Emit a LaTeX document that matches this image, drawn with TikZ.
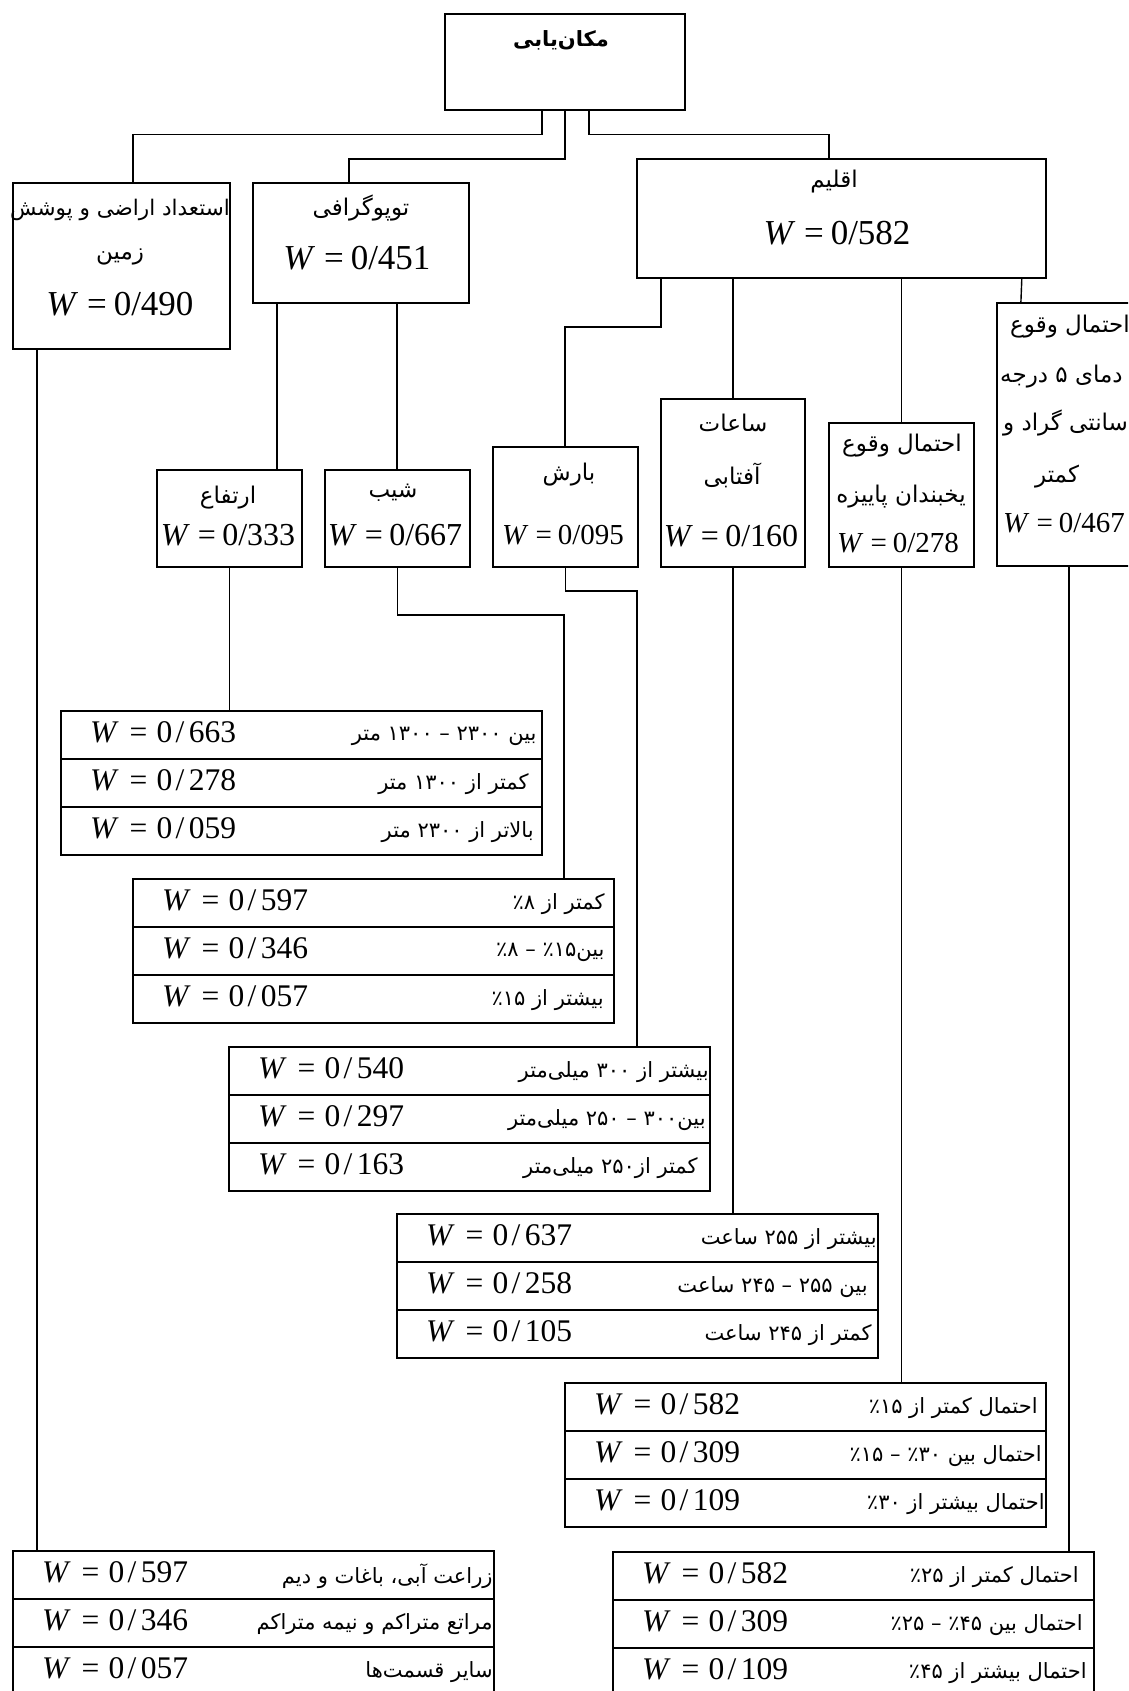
\documentclass[tikz,border=0pt]{standalone}
\usepackage{fontspec}
\setmainfont{Liberation Serif}
\newfontfamily\ar[Script=Arabic]{DejaVu Sans}
\TeXXeTstate=1
\tikzset{
  box/.style={draw, line width=1.8pt, inner sep=0pt, anchor=north west},
  conn/.style={line width=1.4pt},
  ta/.style={inner sep=0pt, font=\ar\fontsize{21}{24}\selectfont},
  ba/.style={inner sep=0pt, font=\ar\fontsize{23}{26}\selectfont},
  wt/.style={inner sep=0pt, font=\fontsize{31.5}{34}\selectfont},
  wb/.style={inner sep=0pt, font=\fontsize{35}{38}\selectfont},
  wm/.style={inner sep=0pt, font=\fontsize{32}{35}\selectfont},
  ws/.style={inner sep=0pt, font=\fontsize{29}{31}\selectfont},
}
\newcommand\Wt[1]{\textit{W}\hspace{.34em}=\hspace{.3em}0\hspace{.1em}/\hspace{.14em}#1}
\newcommand\Wb[1]{\textit{W}\hspace{.25em}=\hspace{.2em}0/#1}
\newcommand\RL[1]{\beginR #1\endR}
\newcommand\pc{\kern0pt ٪}
\newcommand\trow[6]{%
  \node[box, minimum width=481pt, minimum height=48pt] (#1) at (#2,#3) {};
  \node[wt, anchor=west] (#1w) at ([xshift=30pt,yshift=3pt]#1.west) {\Wt{#4}};
  \node[ta, anchor=east] (#1a) at ([xshift=-#6pt,yshift=-1pt]#1.east) {\RL{#5}};
}
\begin{document}
\begin{tikzpicture}[x=1pt,y=-1pt]
\useasboundingbox (0,0) rectangle (1128,1691);
\fill[white] (0,0) rectangle (1128,1691);
\clip (0,0) rectangle (1128,1691);

% boxes
\node[box, minimum width=240pt, minimum height=96pt] (top) at (444,13) {};
\node[box, minimum width=217pt, minimum height=166pt] (land) at (12,182) {};
\node[box, minimum width=216pt, minimum height=120pt] (topo) at (252,182) {};
\node[box, minimum width=409pt, minimum height=119pt] (clim) at (636,158) {};
\node[box, minimum width=145pt, minimum height=97pt] (alt) at (156,469) {};
\node[box, minimum width=145pt, minimum height=97pt] (slope) at (324,469) {};
\node[box, minimum width=145pt, minimum height=120pt] (rain) at (492,446) {};
\node[box, minimum width=144pt, minimum height=168pt] (sun) at (660,398) {};
\node[box, minimum width=145pt, minimum height=144pt] (frost) at (828,422) {};
\node[box, minimum width=144pt, minimum height=263pt] (temp) at (996,302) {};

% box texts
\node[ba, font=\ar\bfseries\fontsize{21}{24}\selectfont] (tTitle) at (561,40) {\RL{مکان^^^^200cیابی}};
\node[ba, font=\ar\fontsize{21.5}{24}\selectfont] (landL1) at (120,210) {\RL{استعداد اراضی و پوشش}};
\node[ba] (landL2) at (120,257) {\RL{زمین}};
\node[wb] (landW) at (120,304) {\Wb{490}};
\node[ba] (topoL) at (361,208) {\RL{توپوگرافی}};
\node[wb] (topoW) at (357,258) {\Wb{451}};
\node[ba] (climL) at (834,182) {\RL{اقلیم}};
\node[wb] (climW) at (837,233) {\Wb{582}};
\node[ba] (altL) at (228,498) {\RL{ارتفاع}};
\node[wm] (altW) at (228,535) {\Wb{333}};
\node[ba] (slopeL) at (393,493) {\RL{شیب}};
\node[wm] (slopeW) at (395,535) {\Wb{667}};
\node[ba] (rainL) at (569,475) {\RL{بارش}};
\node[ws] (rainW) at (563,535) {\Wb{095}};
\node[ba] (sunL1) at (733,423) {\RL{ساعات}};
\node[ba] (sunL2) at (732,475) {\RL{آفتابی}};
\node[wm] (sunW) at (731,536) {\Wb{160}};
\node[ba] (frostL1) at (902,446) {\RL{احتمال وقوع}};
\node[ba] (frostL2) at (901,497) {\RL{یخبندان پاییزه}};
\node[ws] (frostW) at (898,543) {\Wb{278}};
\node[ba, anchor=west] (tempL1) at (1010,327) {\RL{احتمال وقوع}};
\node[ba, anchor=west] (tempL2) at (1000,377) {\RL{دمای ۵ درجه}};
\node[ba, anchor=west] (tempL3) at (1003,423) {\RL{سانتی گراد و}};
\node[ba] (tempL4) at (1057,477) {\RL{کمتر}};
\node[ws] (tempW) at (1064,523) {\Wb{467}};

% tables
\trow{altA}{60}{710}{663}{بین ۲۳۰۰ – ۱۳۰۰ متر}{6}
\trow{altB}{60}{758}{278}{کمتر از ۱۳۰۰ متر}{14}
\trow{altC}{60}{806}{059}{بالاتر از ۲۳۰۰ متر}{9}

\trow{slopeA}{132}{878}{597}{کمتر از ۸\pc}{10}
\trow{slopeB}{132}{926}{346}{بین۱۵\pc{} – ۸\pc}{10}
\trow{slopeC}{132}{974}{057}{بیشتر از ۱۵\pc}{11}

\trow{rainA}{228}{1046}{540}{بیشتر از ۳۰۰ میلی^^^^200cمتر}{2}
\trow{rainB}{228}{1094}{297}{بین۳۰۰ – ۲۵۰ میلی^^^^200cمتر}{5}
\trow{rainC}{228}{1142}{163}{کمتر از۲۵۰ میلی^^^^200cمتر}{13}

\trow{sunA}{396}{1213}{637}{بیشتر از ۲۵۵ ساعت}{2}
\trow{sunB}{396}{1261}{258}{بین ۲۵۵ – ۲۴۵ ساعت}{11}
\trow{sunC}{396}{1309}{105}{کمتر از ۲۴۵ ساعت}{7}

\trow{frostA}{564}{1382}{582}{احتمال کمتر از ۱۵\pc}{9}
\trow{frostB}{564}{1430}{309}{احتمال بین ۳۰\pc{} – ۱۵\pc}{5}
\trow{frostC}{564}{1478}{109}{احتمال بیشتر از ۳۰\pc}{2}

\trow{tempA}{612}{1551}{582}{احتمال کمتر از ۲۵\pc}{16}
\trow{tempB}{612}{1599}{309}{احتمال بین ۴۵\pc{} – ۲۵\pc}{12}
\trow{tempC}{612}{1647}{109}{احتمال بیشتر از ۴۵\pc}{8}

\trow{landA}{12}{1550}{597}{زراعت آبی، باغات و دیم}{2}
\trow{landB}{12}{1598}{346}{مراتع متراکم و نیمه متراکم}{2}
\trow{landC}{12}{1646}{057}{سایر قسمت^^^^200cها}{2}

% connectors
\draw[conn] ([xshift=-23pt]top.south) -- ++(0,24) -| ([xshift=11.5pt]land.north);
\draw[conn] (top.south) -- ++(0,48) -| ([xshift=-12pt]topo.north);
\draw[conn] ([xshift=24pt]top.south) -- ++(0,24) -| ([xshift=-12.5pt]clim.north);
\draw[conn] ([xshift=-84pt]topo.south) -- ([xshift=47.5pt]alt.north);
\draw[conn] ([xshift=36pt]topo.south) -- ([xshift=-0.5pt]slope.north);
\draw[conn] ([xshift=-180.5pt]clim.south) -- ++(0,48) -| ([xshift=-0.5pt]rain.north);
\draw[conn] ([xshift=-108.5pt]clim.south) -- (sun.north);
\draw[conn] ([xshift=60pt]clim.south) -- (frost.north);
\draw[conn] ([xshift=-25pt]clim.south east) -- ([xshift=-48pt]temp.north);
\draw[conn] (alt.south) -- ([xshift=-72pt]altA.north);
\draw[conn] (slope.south) -- ++(0,47) -| ([xshift=190.5pt]slopeA.north);
\draw[conn] (rain.south) -- ++(0,23) -| ([xshift=167.5pt]rainA.north);
\draw[conn] (sun.south) -- ([xshift=95.5pt]sunA.north);
\draw[conn] (frost.south) -- ([xshift=96pt]frostA.north);
\draw[conn] (temp.south) -- ([xshift=215.5pt]tempA.north);
\draw[conn] ([xshift=-84.5pt]land.south) -- ([xshift=-216.5pt]landA.north);
\end{tikzpicture}
\end{document}
